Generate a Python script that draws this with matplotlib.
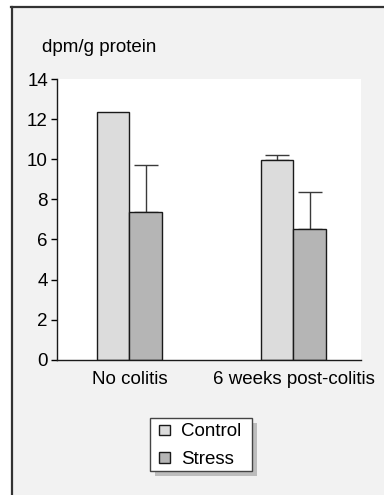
import matplotlib
matplotlib.use("Agg")
import matplotlib.pyplot as plt
from matplotlib.patches import Rectangle
from matplotlib.lines import Line2D
import numpy as np

plt.rcParams['font.family'] = ['Liberation Sans', 'DejaVu Sans']

groups = ["No colitis", "6 weeks post-colitis"]
series = ["Control", "Stress"]
control = [12.35, 9.97]
stress = [7.35, 6.52]
control_err = [0.0, 0.25]
stress_err = [2.34, 1.84]
yticks = [0, 2, 4, 6, 8, 10, 12, 14]
ylabel = "dpm/g protein"

W, H = 384, 495
fig = plt.figure(figsize=(W / 100, H / 100), dpi=100, facecolor="white")

def px(x, y):
    return x / W, 1 - y / H

# panel background and border
fig.patches.append(Rectangle((12 / W, 0), 1 - 12 / W, 1 - 7 / H, transform=fig.transFigure,
                             facecolor="#f2f2f2", edgecolor="none", zorder=-2))
fig.lines.append(Line2D([12 / W, 12 / W], [0, 1 - 6.5 / H], transform=fig.transFigure,
                        color="#333333", lw=1.6, zorder=-1))
fig.lines.append(Line2D([11.2 / W, 1], [1 - 6.5 / H, 1 - 6.5 / H], transform=fig.transFigure,
                        color="#333333", lw=1.6, zorder=-1))

left, right = 57 / W, 361 / W
bottom, top = 1 - 359.7 / H, 1 - 79 / H
ax = fig.add_axes([left, bottom, right - left, top - bottom])
ax.set_zorder(1)
ax.set_facecolor("white")

x = np.arange(len(groups))
w = 0.198
b1 = ax.bar(x - w / 2, control, w, color="#dcdcdc", edgecolor="#1a1a1a", linewidth=1.0, label=series[0], zorder=2)
b2 = ax.bar(x + w / 2, stress, w, color="#b5b5b5", edgecolor="#1a1a1a", linewidth=1.0, label=series[1], zorder=2)

for xs, vals, errs in [(x - w / 2, control, control_err), (x + w / 2, stress, stress_err)]:
    for xi, v, e in zip(xs, vals, errs):
        if e > 0:
            ax.errorbar([xi], [v], yerr=[[0], [e]], fmt="none", ecolor="#3a3a3a",
                        elinewidth=1.0, capsize=8.6, capthick=1.0, zorder=1)

ax.set_xlim(-0.442, 1.412)
ax.set_ylim(0, 14)
ax.set_yticks(yticks)
ax.set_xticks(x)
ax.set_xticklabels(groups, fontsize=13.5)
ax.tick_params(axis="x", length=0, pad=8)
ax.tick_params(axis="y", direction="out", length=4, width=1, pad=2.5, labelsize=13.5)
for s in ["top", "right"]:
    ax.spines[s].set_visible(False)
for s in ["left", "bottom"]:
    ax.spines[s].set_linewidth(1.0)
    ax.spines[s].set_color("#1a1a1a")

fx, fy = px(42, 48)
fig.text(fx, fy, ylabel, ha="left", va="center", fontsize=13.5)

# legend box with shadow
lx0, lx1, ly0, ly1 = 149.7, 252, 418.3, 471
fig.patches.append(Rectangle(px(lx0 + 5, ly1 + 5), (lx1 - lx0) / W, (ly1 - ly0) / H,
                             transform=fig.transFigure, facecolor="#bdbdbd", edgecolor="none", zorder=3))
fig.patches.append(Rectangle(px(lx0, ly1), (lx1 - lx0) / W, (ly1 - ly0) / H,
                             transform=fig.transFigure, facecolor="white", edgecolor="#444444",
                             linewidth=1.0, zorder=4))
leg = fig.legend(handles=[b1, b2], labels=series, loc="upper left",
                 bbox_to_anchor=px(159, 423.5), bbox_transform=fig.transFigure,
                 frameon=False, fontsize=13.5, handlelength=0.58, handleheight=0.5,
                 handletextpad=0.6, labelspacing=0.55, borderpad=0, borderaxespad=0)
leg.set_zorder(5)

fig.savefig("out.png", dpi=100, facecolor=fig.get_facecolor())
